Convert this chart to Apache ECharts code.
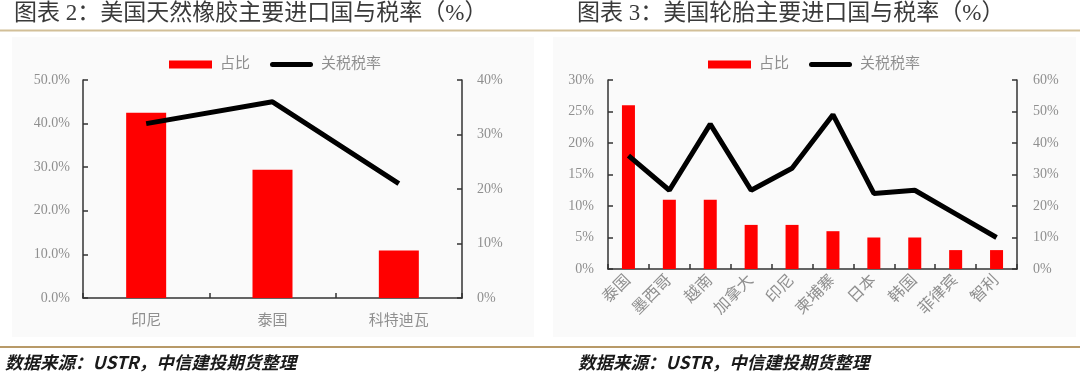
<!DOCTYPE html>
<html>
<head>
<meta charset="utf-8">
<script src="https://cdn.jsdelivr.net/npm/echarts@6/dist/echarts.min.js"></script>
<style>
html,body{margin:0;padding:0;background:#fff;}
#c{width:1080px;height:374px;}
</style>
</head>
<body>
<div id="c"></div>
<script>
// Chart 2: natural rubber
const rubberCountries = ['印尼', '泰国', '科特迪瓦'];
const rubberShare = [42.5, 29.4, 10.9];
const rubberTariff = [32, 36, 21];
const rubberLeftTicks = {min: 0, max: 50, interval: 10};
const rubberRightTicks = {min: 0, max: 40, interval: 10};

// Chart 3: tyres
const tyreCountries = ['泰国', '墨西哥', '越南', '加拿大', '印尼', '柬埔寨', '日本', '韩国', '菲律宾', '智利'];
const tyreShare = [26, 11, 11, 7, 7, 6, 5, 5, 3, 3];
const tyreTariff = [36, 25, 46, 25, 32, 49, 24, 25, 17.5, 10];
const tyreLeftTicks = {min: 0, max: 30, interval: 5};
const tyreRightTicks = {min: 0, max: 60, interval: 10};

const titleLeft = '图表 2：美国天然橡胶主要进口国与税率（%）';
const titleRight = '图表 3：美国轮胎主要进口国与税率（%）';
const sourceText = '数据来源：USTR，中信建投期货整理';
const seriesNames = ['占比', '关税税率'];

const FONT = '"Liberation Serif","Noto Sans CJK SC",serif';
const GRAY = '#8f8f8f';
const AXIS = '#333333';
const LINE_ICON = 'path://M2.5,0 H40.5 A2.5,2.5 0 0 1 40.5,5 H2.5 A2.5,2.5 0 0 1 2.5,0 Z';

function yAxis(gridIndex, ticks, fmt, pos, margin) {
  return {
    type: 'value', gridIndex: gridIndex, position: pos,
    min: ticks.min, max: ticks.max, interval: ticks.interval,
    axisLine: {show: true, lineStyle: {color: AXIS, width: 1.5}},
    axisTick: {show: true, inside: true, length: 5, lineStyle: {color: AXIS, width: 1.5}},
    splitLine: {show: false},
    axisLabel: {color: GRAY, fontSize: 14, fontFamily: FONT, margin: margin, formatter: fmt}
  };
}

function legend(left) {
  return {
    left: left, top: 52, itemWidth: 43, itemHeight: 8, itemGap: 20,
    data: [{name: seriesNames[0], icon: 'rect'}, {name: seriesNames[1], icon: LINE_ICON}],
    textStyle: {color: GRAY, fontSize: 15, fontFamily: FONT, padding: [0, 0, 0, 3]}
  };
}

const chart = echarts.init(document.getElementById('c'), null, {renderer: 'canvas'});
chart.setOption({
  animation: false,
  backgroundColor: '#ffffff',
  graphic: [
    {type: 'rect', shape: {x: 12, y: 37, width: 522, height: 300}, style: {fill: '#fafafa'}, z: -10},
    {type: 'rect', shape: {x: 553, y: 37, width: 523, height: 300}, style: {fill: '#fafafa'}, z: -10},
    {type: 'line', shape: {x1: 0, y1: 30.5, x2: 1080, y2: 30.5}, style: {stroke: '#d2bf98', lineWidth: 2}},
    {type: 'line', shape: {x1: 0, y1: 347, x2: 1080, y2: 347}, style: {stroke: '#b89a68', lineWidth: 2}},
    {type: 'text', x: 14, y: 14, style: {text: titleLeft, font: '23px ' + FONT, fill: '#3a3a3a', verticalAlign: 'middle'}},
    {type: 'text', x: 577, y: 14, style: {text: titleRight, font: '23px ' + FONT, fill: '#3a3a3a', verticalAlign: 'middle'}},
    {type: 'text', x: 5, y: 362, style: {text: sourceText, font: 'italic bold 17.5px "Noto Sans CJK SC",sans-serif', fill: '#1a1a1a', verticalAlign: 'middle'}},
    {type: 'text', x: 578, y: 362, style: {text: sourceText, font: 'italic bold 17.5px "Noto Sans CJK SC",sans-serif', fill: '#1a1a1a', verticalAlign: 'middle'}}
  ],
  legend: [legend(164), legend(703)],
  grid: [
    {left: 83, right: 618, top: 80, bottom: 76, containLabel: false},
    {left: 608, right: 63, top: 80, bottom: 105, containLabel: false}
  ],
  xAxis: [
    {
      type: 'category', gridIndex: 0, data: rubberCountries,
      axisLine: {show: true, lineStyle: {color: AXIS, width: 1.5}},
      axisTick: {show: true, inside: true, length: 5, lineStyle: {color: AXIS, width: 1.5}},
      axisLabel: {color: GRAY, fontSize: 15, fontFamily: FONT, margin: 16}
    },
    {
      type: 'category', gridIndex: 1, data: tyreCountries,
      axisLine: {show: true, lineStyle: {color: AXIS, width: 1.5}},
      axisTick: {show: true, inside: true, length: 5, lineStyle: {color: AXIS, width: 1.5}},
      axisLabel: {color: GRAY, fontSize: 16, fontFamily: FONT, margin: 9, rotate: 45, interval: 0}
    }
  ],
  yAxis: [
    yAxis(0, rubberLeftTicks, v => v.toFixed(1) + '%', 'left', 13),
    yAxis(0, rubberRightTicks, v => v + '%', 'right', 15),
    yAxis(1, tyreLeftTicks, v => v + '%', 'left', 14),
    yAxis(1, tyreRightTicks, v => v + '%', 'right', 16)
  ],
  series: [
    {name: seriesNames[0], type: 'bar', xAxisIndex: 0, yAxisIndex: 0, data: rubberShare, barWidth: 40, itemStyle: {color: '#ff0000'}},
    {name: seriesNames[1], type: 'line', xAxisIndex: 0, yAxisIndex: 1, data: rubberTariff, symbol: 'none', lineStyle: {color: '#000', width: 5}, itemStyle: {color: '#000'}},
    {name: seriesNames[0], type: 'bar', xAxisIndex: 1, yAxisIndex: 2, data: tyreShare, barWidth: 13, itemStyle: {color: '#ff0000'}},
    {name: seriesNames[1], type: 'line', xAxisIndex: 1, yAxisIndex: 3, data: tyreTariff, symbol: 'none', lineStyle: {color: '#000', width: 5}, itemStyle: {color: '#000'}}
  ]
});
</script>
</body>
</html>
